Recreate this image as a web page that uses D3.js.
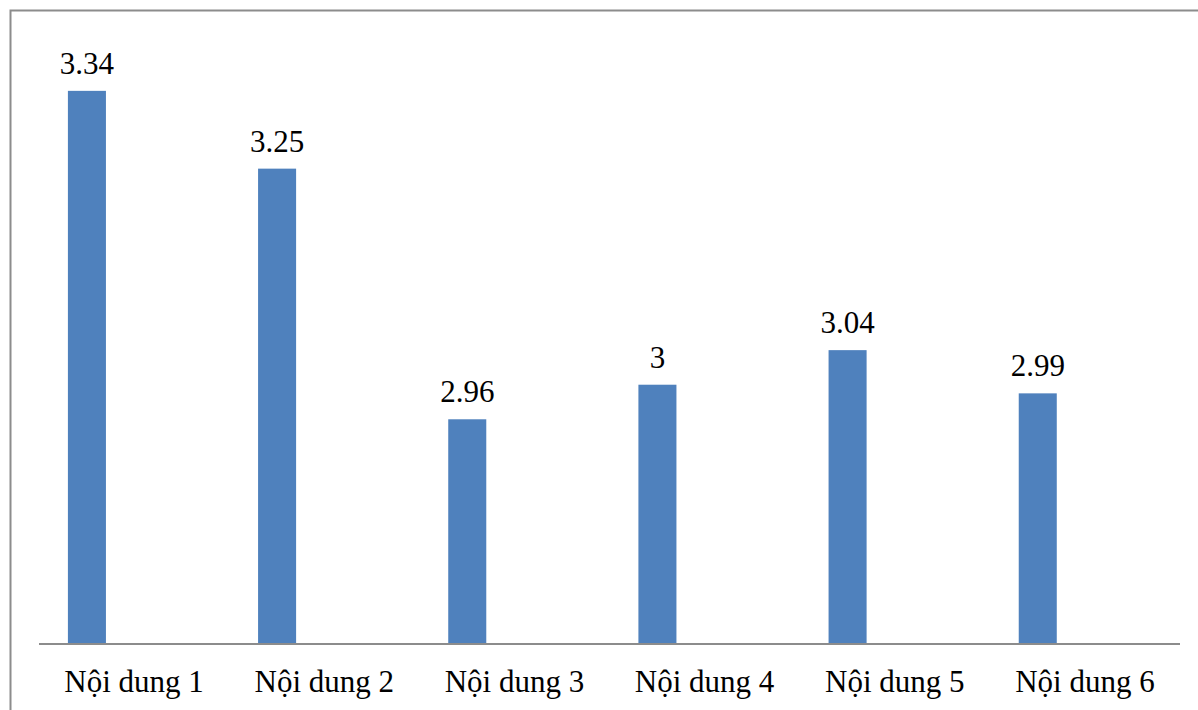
<!DOCTYPE html>
<html>
<head>
<meta charset="utf-8">
<script src="https://cdn.jsdelivr.net/npm/d3@7"></script>
<style>
  html, body { margin: 0; padding: 0; background: #fff; }
  svg { display: block; }
  .serif-text { font-family: "Liberation Serif", "Times New Roman", Times, serif; }
</style>
</head>
<body>
<svg id="chart" width="1198" height="710"></svg>
<script>
// Category names and their mean scores
const categories = ["Nội dung 1", "Nội dung 2", "Nội dung 3", "Nội dung 4", "Nội dung 5", "Nội dung 6"];
const values = [3.34, 3.25, 2.96, 3, 3.04, 2.99];
const yDomain = [2.7, 3.4];

const svg = d3.select("#chart");
const W = 1198, H = 710;

// Outer chart frame (continues past the right and bottom edges)
svg.append("rect")
  .attr("x", 10.5).attr("y", 10.5)
  .attr("width", W + 20).attr("height", H + 20)
  .attr("fill", "#fff")
  .attr("stroke", "#8c8c8c")
  .attr("stroke-width", 2);

const plot = { left: 39, right: 1180, top: 39, bottom: 644 };

const x = d3.scaleBand()
  .domain(categories)
  .range([plot.left, plot.right])
  .paddingInner(0).paddingOuter(0);

// Each bar sits toward the left of its category slot
const barW = x.bandwidth() * 0.2;
const barOffset = x.bandwidth() * 0.152;

const y = d3.scaleLinear()
  .domain(yDomain)
  .range([plot.bottom, plot.top]);

// Bars
svg.append("g")
  .selectAll("rect")
  .data(values)
  .join("rect")
  .attr("x", (d, i) => x(categories[i]) + barOffset)
  .attr("y", d => y(d))
  .attr("width", barW)
  .attr("height", d => y(yDomain[0]) - y(d))
  .attr("fill", "#4f81bd");

// Value labels above bars
svg.append("g")
  .selectAll("text")
  .data(values)
  .join("text")
  .attr("class", "serif-text")
  .attr("x", (d, i) => x(categories[i]) + barOffset + barW / 2)
  .attr("y", d => y(d) - 17)
  .attr("text-anchor", "middle")
  .style("font-size", "31px")
  .attr("fill", "#000")
  .text(d => d3.format("")(d));

// Category axis
const xAxis = svg.append("g")
  .attr("transform", `translate(0,${plot.bottom})`)
  .call(d3.axisBottom(x).tickSize(0).tickPadding(0));
xAxis.attr("font-family", null).attr("font-size", null);
xAxis.select(".domain")
  .attr("stroke", "#8c8c8c")
  .attr("stroke-width", 2)
  .attr("d", `M${plot.left},0H${plot.right}`);
xAxis.selectAll(".tick text")
  .attr("class", "serif-text")
  .attr("y", 48)
  .attr("dy", 0)
  .style("font-size", "31px")
  .attr("fill", "#000");
</script>
</body>
</html>
